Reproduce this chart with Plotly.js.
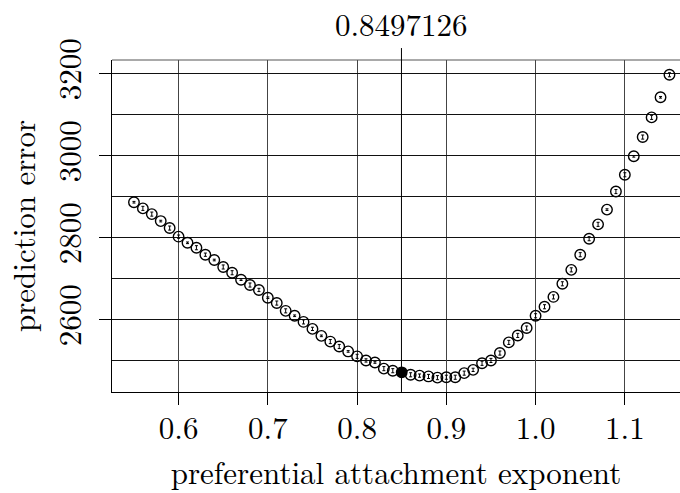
<!DOCTYPE html>
<html>
<head>
<meta charset="utf-8">
<script src="https://cdn.plot.ly/plotly-3.0.1.min.js"></script>
<style>html,body{margin:0;padding:0;background:#fff;overflow:hidden;}</style>
</head>
<body>
<div id="chart" style="width:680px;height:493px;"></div>
<script>
const exponent = [0.55,0.56,0.57,0.58,0.59,0.60,0.61,0.62,0.63,0.64,0.65,0.66,0.67,0.68,0.69,0.70,
  0.71,0.72,0.73,0.74,0.75,0.76,0.77,0.78,0.79,0.80,0.81,0.82,0.83,0.84,0.85,0.86,0.87,0.88,0.89,0.90,
  0.91,0.92,0.93,0.94,0.95,0.96,0.97,0.98,0.99,1.00,1.01,1.02,1.03,1.04,1.05,1.06,1.07,1.08,1.09,1.10,
  1.11,1.12,1.13,1.14,1.15];
const predError = [2887,2872,2858,2841,2824,2803,2788,2776,2759,2746,2729,2715,2698,2685,2673,2654,
  2641,2622,2610,2595,2578,2561,2547,2535,2523,2511,2501,2496,2481,2476,2472,2466,2464,2462,2459,2460,
  2460,2470,2478,2494,2501,2519,2545,2562,2580,2610,2632,2656,2688,2722,2759,2798,2833,2869,2913,2954,
  2999,3046,3094,3143,3198];
const errHalf = [2,5,5,2,5,4,2,5,4,2,5,5,2,5,4,2,
  5,5,2,5,4,2,5,5,2,5,4,2,5,5,2,5,4,5,5,5,
  5,5,4,5,5,5,5,5,5,5,5,5,5,5,5,5,5,2,5,5,
  2,5,5,2,5];
const bestExponent = 0.8497126;
const bestLabel = "0.8497126";
const xTickVals = [0.6,0.7,0.8,0.9,1.0,1.1];
const xTickText = ["0.6","0.7","0.8","0.9","1.0","1.1"];

const serif = "Latin Modern Roman";
const fs = 31;

const iBest = exponent.indexOf(0.85);

const traces = [
  {
    x: exponent, y: predError, type: 'scatter', mode: 'markers',
    marker: {symbol: 'circle-open', size: 10.5, color: 'black', line: {width: 1.4, color: 'black'}},
    error_y: {type: 'data', array: errHalf, visible: true, color: 'black', thickness: 1, width: 1.5},
    hoverinfo: 'x+y'
  },
  {
    x: [exponent[iBest]], y: [predError[iBest]], type: 'scatter', mode: 'markers',
    marker: {symbol: 'circle', size: 10.5, color: 'black'}
  }
];

const layout = {
  width: 680, height: 493,
  margin: {l: 112, r: 0, t: 60, b: 101},
  paper_bgcolor: '#fff', plot_bgcolor: '#fff',
  showlegend: false,
  font: {family: serif, color: 'black', size: fs},
  xaxis: {
    range: [0.5254, 1.1618],
    tickmode: 'array', tickvals: xTickVals, ticktext: xTickText,
    ticks: 'outside', ticklen: 12, tickwidth: 1, tickcolor: 'black',
    showgrid: true, gridcolor: '#444', gridwidth: 1,
    showline: true, linecolor: 'black', linewidth: 1,
    zeroline: false,
    tickfont: {family: serif, size: fs, color: 'black'},
    ticklabelstandoff: -3,
    title: {text: 'preferential attachment exponent', font: {family: serif, size: fs, color: 'black'}, standoff: 16}
  },
  yaxis: {
    range: [2424, 3234],
    tickmode: 'linear', tick0: 2600, dtick: 200,
    ticks: 'outside', ticklen: 12, tickwidth: 1, tickcolor: 'black',
    tickangle: -90,
    showgrid: true, gridcolor: '#111', gridwidth: 1,
    minor: {dtick: 100, tick0: 2500, showgrid: true, gridcolor: '#111', gridwidth: 1, ticks: ''},
    showline: true, linecolor: 'black', linewidth: 1,
    zeroline: false,
    tickfont: {family: serif, size: fs, color: 'black'},
    ticklabelstandoff: 6,
    title: {text: 'prediction error', font: {family: serif, size: fs, color: 'black'}, standoff: 13}
  },
  shapes: [
    {type: 'line', xref: 'paper', yref: 'paper', x0: 0, x1: 1, y0: 1, y1: 1, line: {color: '#555', width: 1}},
    {type: 'line', xref: 'x', yref: 'paper', x0: bestExponent, x1: bestExponent, y0: 0, y1: 1.036, line: {color: 'black', width: 1}}
  ],
  annotations: [
    {text: bestLabel, xref: 'x', yref: 'paper', x: bestExponent, y: 1.11, xanchor: 'center', yanchor: 'middle',
     showarrow: false, font: {family: serif, size: fs, color: 'black'}}
  ]
};

Plotly.newPlot('chart', traces, layout, {displayModeBar: false, staticPlot: true});
</script>
</body>
</html>
